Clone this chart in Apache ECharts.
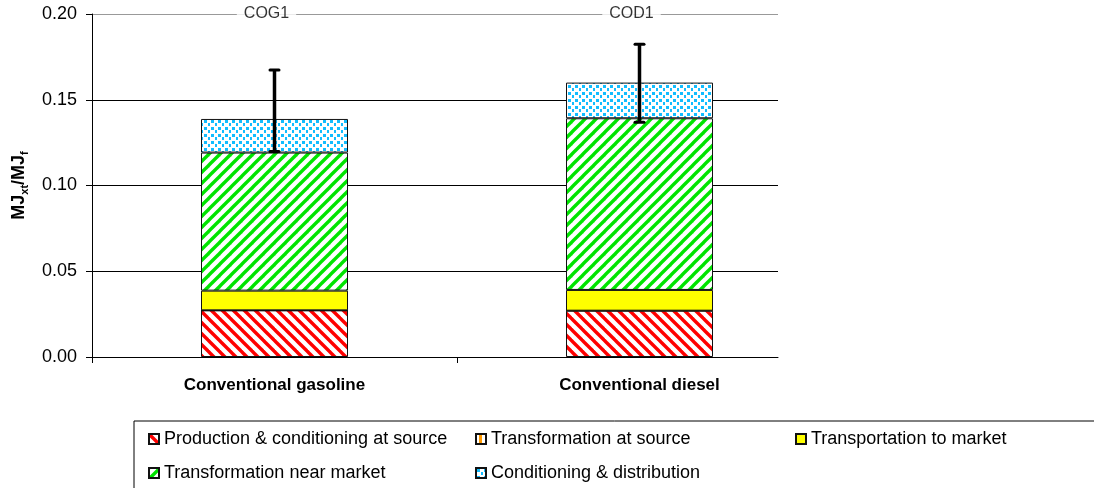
<!DOCTYPE html>
<html><head><meta charset="utf-8">
<script src="https://cdn.jsdelivr.net/npm/echarts@6/dist/echarts.min.js"></script>
<style>html,body{margin:0;padding:0;background:#fff}#c{width:1094px;height:488px}</style>
</head><body><div id="c"></div>
<script>
// ---- data ----
const categories = ['Conventional gasoline', 'Conventional diesel'];
const topLabels = ['COG1', 'COD1'];
const seriesNames = ['Production & conditioning at source', 'Transformation at source', 'Transportation to market', 'Transformation near market', 'Conditioning & distribution'];
const production = [0.0272, 0.0270];
const transformationAtSource = [0, 0];
const transportation = [0.0115, 0.0121];
const transformationNearMarket = [0.0805, 0.1001];
const conditioning = [0.0196, 0.0208];
const errLow = [0.1198, 0.1369];
const errHigh = [0.1674, 0.1824];
const yMin = 0, yMax = 0.2, yStep = 0.05;

// ---- patterns ----
function tile(w, h, draw) {
  const c = document.createElement('canvas'); c.width = w; c.height = h;
  const g = c.getContext('2d'); g.fillStyle = '#fff'; g.fillRect(0, 0, w, h); draw(g, w, h);
  return { image: c, repeat: 'repeat' };
}
const P = 11;
const redPat = tile(P, P, (g) => { g.strokeStyle = '#ff0000'; g.lineWidth = 3.4;
  for (const o of [-P, 0, P]) { g.beginPath(); g.moveTo(o - 3, -3); g.lineTo(o + P + 3, P + 3); g.stroke(); } });
const greenPat = tile(P, P, (g) => { g.strokeStyle = '#00e400'; g.lineWidth = 3.4;
  for (const o of [-P, 0, P]) { g.beginPath(); g.moveTo(o - 3, P + 3); g.lineTo(o + P + 3, -3); g.stroke(); } });
const bluePat = tile(7, 7, (g) => { g.fillStyle = '#12bdff';
  g.fillRect(1, 1, 3, 3); g.fillRect(5, 4, 2, 3); });
const orangePat = tile(8, 8, (g) => { g.fillStyle = '#ff9900'; g.fillRect(3, 0, 3, 8); });

const FONT = "'Liberation Sans', Arial, sans-serif";
const values = [production, transformationAtSource, transportation, transformationNearMarket, conditioning];
const fills = [redPat, orangePat, '#ffff00', greenPat, bluePat];

const barSeries = seriesNames.map((n, k) => ({
  name: n, type: 'bar', stack: 'total', xAxisIndex: 0, yAxisIndex: 0,
  barWidth: 147, data: values[k],
  itemStyle: { color: fills[k], borderColor: '#111', borderWidth: 1 },
  emphasis: { disabled: true }
}));

const colW = 365; // px per category in the bar grid
const axisRight = 778;
const legendWidths = [301, 294, 200, 301, 294];

const chart = echarts.init(document.getElementById('c'));
chart.setOption({
  animation: false,
  grid: [
    { left: 92, top: 14, width: colW * categories.length, bottom: 131 },
    { left: 92, top: 14, right: 1094 - axisRight, bottom: 131 }
  ],
  xAxis: [
    { type: 'category', gridIndex: 0, data: categories,
      axisLine: { show: false }, axisTick: { show: false }, splitLine: { show: false },
      axisLabel: { color: '#000', fontFamily: FONT, fontWeight: 'bold', fontSize: 17, margin: 20 } },
    { type: 'value', gridIndex: 1, min: 0, max: (axisRight - 92) / colW,
      axisLine: { show: true, onZero: false, lineStyle: { color: '#000', width: 1 } },
      axisTick: { show: true, length: 6, customValues: categories.map((c, i) => i), lineStyle: { color: '#000' } },
      axisLabel: { show: false }, splitLine: { show: false } }
  ],
  yAxis: [
    { type: 'value', gridIndex: 0, min: yMin, max: yMax, interval: yStep, show: false, splitLine: { show: false } },
    { type: 'value', gridIndex: 1, min: yMin, max: yMax, interval: yStep,
      axisLine: { show: true, lineStyle: { color: '#000' } },
      axisTick: { show: true, length: 6, lineStyle: { color: '#000' } },
      axisLabel: { formatter: v => v.toFixed(2), color: '#000', fontFamily: FONT, fontSize: 18, margin: 15 },
      splitLine: { show: true, lineStyle: { color: ['#000', '#000', '#000', '#000', '#999'], width: 1 } },
      name: '{b|MJ}{s|xt}{b|/MJ}{s|f}', nameLocation: 'middle', nameGap: 62,
      nameTextStyle: { rich: {
        b: { fontFamily: FONT, fontWeight: 'bold', fontSize: 18, color: '#000', lineHeight: 22 },
        s: { fontFamily: FONT, fontWeight: 'bold', fontSize: 11, color: '#000', lineHeight: 14, verticalAlign: 'bottom' }
      } } }
  ],
  legend: {
    left: 134, top: 421, width: 1100, orient: 'horizontal',
    padding: [6, 100, 40, 14], itemGap: 10, itemWidth: 10, itemHeight: 10,
    borderColor: '#000', borderWidth: 1, icon: 'rect',
    selectedMode: false,
    textStyle: { color: '#000', fontFamily: FONT, fontSize: 18, lineHeight: 24 },
    data: seriesNames.map((n, k) => ({ name: n, textStyle: { width: legendWidths[k] } }))
  },
  series: barSeries.concat([
    { type: 'scatter', xAxisIndex: 0, yAxisIndex: 0, symbolSize: 1, silent: true,
      itemStyle: { color: 'rgba(0,0,0,0)' },
      data: topLabels.map((t, i) => [i, yMax]),
      label: { show: true, position: 'inside', formatter: p => topLabels[p.dataIndex],
        color: '#000', fontFamily: FONT, fontSize: 16, backgroundColor: '#fff', padding: [2, 7], offset: [-8, 0] },
      z: 5 },
    { type: 'custom', xAxisIndex: 0, yAxisIndex: 0, silent: true, z: 10,
      encode: { x: 0, y: [1, 2] },
      data: categories.map((c, i) => [i, errLow[i], errHigh[i]]),
      renderItem: (params, api) => {
        const x = api.value(0);
        const lo = api.coord([x, api.value(1)]);
        const hi = api.coord([x, api.value(2)]);
        const cw = 4.5;
        return { type: 'group', children: [
          { type: 'line', shape: { x1: lo[0], y1: lo[1], x2: hi[0], y2: hi[1] }, style: { stroke: '#000', lineWidth: 3.5 } },
          { type: 'line', shape: { x1: hi[0] - cw, y1: hi[1], x2: hi[0] + cw, y2: hi[1] }, style: { stroke: '#000', lineWidth: 3, lineCap: 'round' } },
          { type: 'line', shape: { x1: lo[0] - cw, y1: lo[1], x2: lo[0] + cw, y2: lo[1] }, style: { stroke: '#000', lineWidth: 3, lineCap: 'round' } }
        ] };
      } }
  ])
});
</script></body></html>
